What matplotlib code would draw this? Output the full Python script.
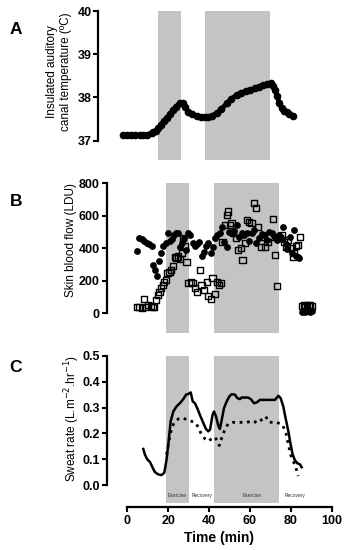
import numpy as np
import matplotlib.pyplot as plt

plt.rcParams['font.family'] = ['Liberation Sans', 'DejaVu Sans']

# exercise periods (min)
exercise = [(19.0, 30.3), (42.2, 74.2)]

# A: insulated auditory canal temperature
temp_t = [2.2, 4, 6, 8, 10.4, 12, 14, 16, 16.9, 18, 19.3, 20.5, 22, 23.4, 25, 26.7, 28, 29.9,
          31.2, 32.5, 34.0, 36, 38.1, 40, 42, 43.8, 45.5, 47.9, 50, 52.8, 55, 57.7, 60, 62, 64.2,
          66.5, 68.5, 70.7, 72.5, 74.3, 75.4, 76.4, 77.5, 78.5, 79.7, 80.8, 82.1, 83.5, 85.1]
temp_v = [37.13, 37.12, 37.12, 37.12, 37.13, 37.13, 37.14, 37.17, 37.19, 37.23, 37.29, 37.37, 37.45,
          37.52, 37.61, 37.71, 37.78, 37.88, 37.86, 37.77, 37.67, 37.61, 37.56, 37.55, 37.54, 37.54,
          37.57, 37.63, 37.72, 37.86, 37.96, 38.06, 38.11, 38.14, 38.17, 38.21, 38.25, 38.29, 38.31,
          38.33, 38.27, 38.17, 38.03, 37.88, 37.75, 37.69, 37.65, 37.61, 37.56]

# B: skin blood flow, filled circles
circ_t = [4.6, 5.9, 7.0, 8.3, 9.5, 10.6, 11.9, 12.7, 13.5, 14.4, 15.7, 16.7, 17.6, 18.8, 19.7,
          20.9, 21.9, 22.8, 23.8, 24.8, 25.8, 26.8, 27.7, 28.7, 29.5, 30.6, 31.9, 33.1, 34.2, 35.2,
          36.3, 37.5, 38.5, 39.6, 40.8, 41.7, 42.9, 44.0, 45.3, 46.5, 47.4, 48.6, 49.9, 51.0, 52.2,
          53.5, 54.8, 56.1, 57.2, 58.4, 59.7, 60.8, 62.0, 63.2, 64.6, 65.7, 66.9, 68.1, 69.5, 70.6,
          71.7, 73.0, 74.4, 75.5, 76.4, 77.5, 78.3, 79.6, 80.8, 81.7, 82.5, 83.3, 84.1,
          85.5, 86.3, 87.1, 87.9, 88.7, 89.5, 90.3]
circ_v = [384, 461, 455, 445, 435, 427, 414, 297, 267, 230, 324, 373, 414, 431, 492,
          447, 455, 482, 492, 496, 406, 435, 461, 390, 496, 482, 431, 414, 427, 441,
          353, 379, 414, 435, 369, 410, 461, 482, 496, 533, 441, 406, 502, 492, 509,
          544, 472, 496, 482, 492, 447, 496, 513, 435, 461, 486, 482, 451, 502, 492,
          476, 451, 482, 455, 529, 427, 394, 472, 373, 513, 353, 345, 338,
          10, 15, 8, 12, 18, 10, 14]

# B: skin blood flow, open squares
sq_t = [4.6, 5.9, 7.0, 8.2, 9.1, 10.3, 11.4, 12.4, 13.2, 14.0, 14.9, 15.7, 16.5, 17.3, 18.1,
        18.9, 19.7, 20.6, 21.4, 22.2, 23.3, 24.1, 24.9, 25.8, 26.6, 27.4, 28.2, 29.0, 29.9,
        31.0, 31.9, 33.1, 34.2, 35.5, 36.3, 37.5, 38.8, 39.6, 40.8, 41.7, 42.9, 44.0, 45.0,
        45.7, 46.6, 47.8, 48.6, 49.4, 50.2, 51.0, 51.8, 53.2, 54.3, 55.5, 56.4, 57.6, 58.7,
        59.7, 60.8, 62.0, 63.0, 64.1, 65.3, 66.3, 67.4, 68.6, 69.9, 71.2, 72.4, 73.2, 74.5,
        75.5, 76.7, 77.9, 78.8, 79.9, 80.9, 81.7, 82.5, 83.6, 84.5,
        85.5, 86.3, 87.1, 87.9, 88.7, 89.5, 90.3]
sq_v = [41, 37, 35, 86, 41, 51, 45, 37, 41, 82, 113, 133, 154, 174, 195,
        205, 246, 256, 267, 291, 345, 338, 349, 332, 369, 461, 414, 318, 185,
        195, 185, 154, 133, 267, 174, 144, 195, 107, 86, 215, 119, 195, 174,
        185, 441, 544, 605, 626, 544, 554, 492, 461, 390, 400, 328, 431, 574,
        564, 554, 677, 646, 533, 410, 472, 406, 441, 472, 578, 359, 168, 461,
        482, 441, 410, 451, 400, 345, 369, 414, 420, 468,
        45, 50, 40, 48, 42, 50, 46]

# C: sweat rate, solid and dotted series
sw1_t = [7.8, 8.6, 9.8, 11.1, 12.4, 13.5, 15.2, 16.8, 18.1, 19.2, 20.1, 21.2, 22.5, 24.1, 25.7,
         27.4, 28.7, 29.9, 31.0, 32.0, 33.1, 34.2, 35.5, 37.2, 38.5, 39.6, 40.5, 41.7, 42.4,
         43.4, 44.5, 45.3, 46.2, 47.3, 48.6, 49.9, 51.0, 52.7, 53.8, 55.1, 55.9, 59.1, 60.4,
         62.0, 63.3, 64.9, 66.5, 69.8, 72.2, 73.9, 75.0, 76.3, 77.6, 78.8, 79.9, 80.9, 82.0,
         83.3, 84.5, 85.3]
sw1_v = [0.140, 0.118, 0.099, 0.089, 0.067, 0.050, 0.041, 0.039, 0.048, 0.099, 0.163, 0.247,
         0.285, 0.305, 0.317, 0.333, 0.350, 0.353, 0.359, 0.324, 0.317, 0.298, 0.272, 0.240,
         0.217, 0.208, 0.215, 0.272, 0.285, 0.266, 0.230, 0.217, 0.253, 0.298, 0.324, 0.343,
         0.352, 0.350, 0.337, 0.333, 0.339, 0.339, 0.333, 0.317, 0.320, 0.330, 0.330, 0.330,
         0.330, 0.346, 0.337, 0.305, 0.253, 0.208, 0.157, 0.118, 0.096, 0.084, 0.080, 0.069]
sw2_t = [19.2, 20.5, 21.7, 22.8, 24.9, 27.4, 29.3, 31.4, 33.1, 34.7, 36.3, 38.0, 39.6, 41.2,
         42.9, 44.0, 45.0, 46.2, 47.8, 49.4, 51.8, 55.1, 58.4, 61.6, 63.6, 65.7, 67.7, 69.3,
         73.0, 75.9, 77.6, 78.8, 79.9, 81.2, 82.5, 83.6]
sw2_v = [0.118, 0.176, 0.221, 0.240, 0.256, 0.260, 0.251, 0.247, 0.243, 0.225, 0.195, 0.179,
         0.170, 0.179, 0.186, 0.170, 0.153, 0.183, 0.217, 0.238, 0.243, 0.243, 0.243, 0.249,
         0.240, 0.253, 0.266, 0.243, 0.243, 0.234, 0.202, 0.157, 0.118, 0.093, 0.067, 0.035]

phase_labels = ['Exercise', 'Recovery', 'Exercise', 'Recovery']
phase_x = [24.5, 36.4, 61, 82]

shade = '#c4c4c4'
W, H = 350, 550
fig = plt.figure(figsize=(3.5, 5.5), dpi=100)


def make_axes(left_px, top_px, bottom_px):
    width_px = 224.8
    return fig.add_axes([left_px / W, 1 - bottom_px / H, width_px / W, (bottom_px - top_px) / H])


def style(ax, ybounds, yticks):
    for s in ['top', 'right']:
        ax.spines[s].set_visible(False)
    ax.spines['left'].set_linewidth(1.6)
    ax.spines['left'].set_bounds(*ybounds)
    ax.set_yticks(yticks)
    ax.tick_params(axis='y', width=1.5, length=3.5, pad=1.5, labelsize=9)
    for lbl in ax.get_yticklabels():
        lbl.set_fontweight('bold')
    ax.set_xlim(-10, 100)


# Panel A
axA = make_axes(98.4, 11, 160)
for x0, x1 in exercise:
    axA.axvspan(x0, x1, color=shade, lw=0, zorder=0)
axA.plot(temp_t, temp_v, '-o', color='black', lw=3.5, ms=4.5)
axA.set_ylim(36.55, 40)
style(axA, (37, 40), [37, 38, 39, 40])
axA.spines['bottom'].set_visible(False)
axA.set_xticks([])
axA.set_ylabel('Insulated auditory\ncanal temperature (ºC)', fontsize=8.5)
axA.yaxis.set_label_coords(-0.117, 0.593)
fig.text(16 / W, 1 - 30 / H, 'A', fontsize=12.5, fontweight='bold', ha='center', va='center')

# Panel B
axB = make_axes(106.9, 183.3, 333.3)
for x0, x1 in exercise:
    axB.axvspan(x0, x1, color=shade, lw=0, zorder=0)
axB.scatter(circ_t, circ_v, s=15, color='black', zorder=3)
axB.scatter(sq_t, sq_v, s=20, marker='s', facecolors='none', edgecolors='black', linewidths=1, zorder=2)
axB.set_ylim(-123, 800)
style(axB, (0, 800), [0, 200, 400, 600, 800])
axB.spines['bottom'].set_visible(False)
axB.set_xticks([])
axB.set_ylabel('Skin blood flow (LDU)', fontsize=8.5)
axB.yaxis.set_label_coords(-0.133, 0.619)
fig.text(16 / W, 1 - 202 / H, 'B', fontsize=12.5, fontweight='bold', ha='center', va='center')

# Panel C
axC = make_axes(106.9, 356, 507)
for x0, x1 in exercise:
    axC.fill_between([x0, x1], -0.07, 0.5, color=shade, lw=0, zorder=0)
axC.plot(sw1_t, sw1_v, '-', color='black', lw=1.8)
axC.plot(sw2_t, sw2_v, ':', color='black', lw=2)
axC.set_ylim(-0.085, 0.5)
style(axC, (0, 0.5), [0.0, 0.1, 0.2, 0.3, 0.4, 0.5])
axC.set_yticklabels([f'{v:.1f}' for v in [0.0, 0.1, 0.2, 0.3, 0.4, 0.5]], fontweight='bold')
axC.spines['bottom'].set_linewidth(1.6)
axC.spines['bottom'].set_bounds(0, 100)
axC.set_xticks([0, 20, 40, 60, 80, 100])
axC.tick_params(axis='x', width=1.5, length=3.5, pad=2, labelsize=9)
for lbl in axC.get_xticklabels():
    lbl.set_fontweight('bold')
axC.set_xlabel('Time (min)', fontsize=10, fontweight='bold', labelpad=3)
axC.set_ylabel('Sweat rate (L.m$^{-2}$.hr$^{-1}$)', fontsize=8.5)
axC.yaxis.set_label_coords(-0.112, 0.589)
for lab, x in zip(phase_labels, phase_x):
    axC.text(x, -0.039, lab, fontsize=3.5, ha='center', va='center', color='#333333')
fig.text(16 / W, 1 - 368 / H, 'C', fontsize=12.5, fontweight='bold', ha='center', va='center')

fig.savefig('out.png', dpi=100)
